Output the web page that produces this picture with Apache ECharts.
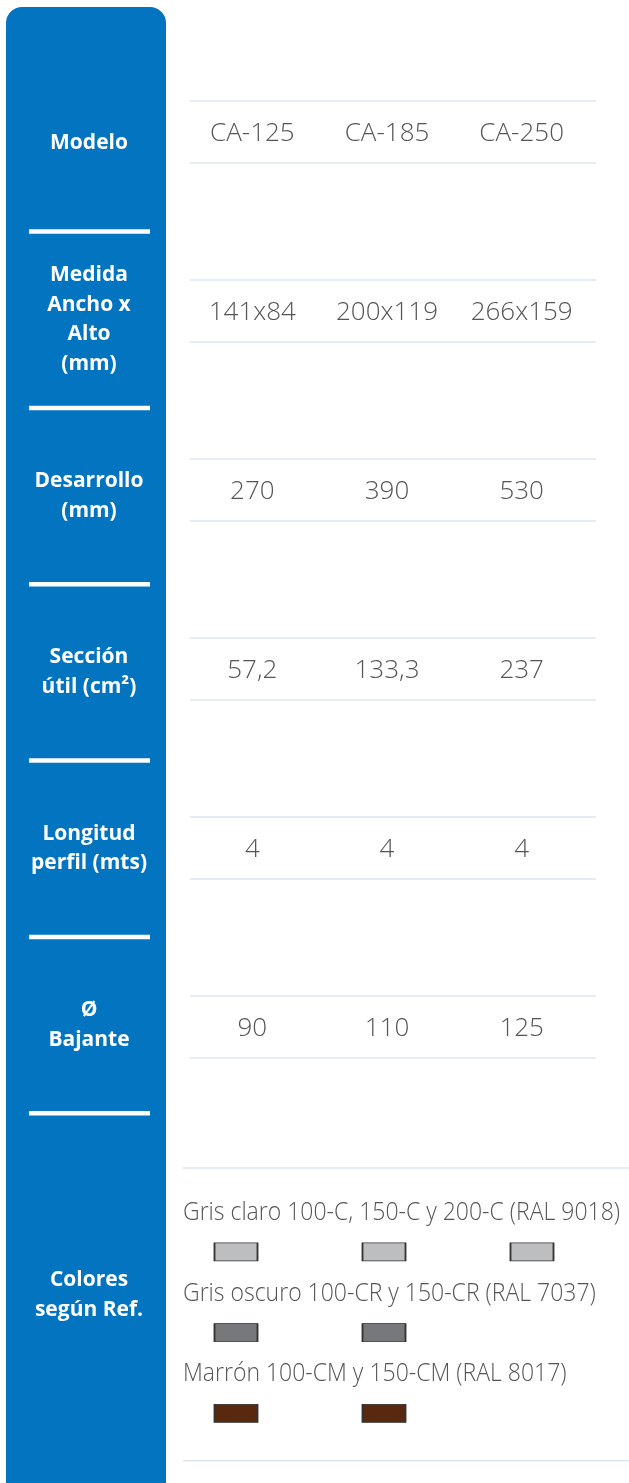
<!DOCTYPE html>
<html>
<head>
<meta charset="utf-8">
<script src="https://cdn.jsdelivr.net/npm/echarts@6/dist/echarts.min.js"></script>
<style>
html, body { margin: 0; padding: 0; background: #fff; }
#chart { width: 629px; height: 1483px; }
</style>
</head>
<body>
<div id="chart"></div>
<script>
// filas de la tabla
const rowNames = ['Modelo', 'Medida\nAncho x\nAlto\n(mm)', 'Desarrollo\n(mm)', 'Sección\nútil (cm²)', 'Longitud\nperfil (mts)', 'Ø\nBajante'];
const models = ['CA-125', 'CA-185', 'CA-250'];
const medida = ['141x84', '200x119', '266x159'];
const desarrollo = [270, 390, 530];
const seccion = ['57,2', '133,3', '237'];
const longitud = [4, 4, 4];
const bajante = [90, 110, 125];
const tableRows = [models, medida, desarrollo, seccion, longitud, bajante];

// colores
const colorLabel = 'Colores\nsegún Ref.';
const colorNames = ['Gris claro 100-C, 150-C y 200-C (RAL 9018)', 'Gris oscuro 100-CR y 150-CR (RAL 7037)', 'Marrón 100-CM y 150-CM (RAL 8017)'];
const colorCounts = [3, 2, 2];
const colorHex = ['#BCBEC0', '#77787B', '#58290F'];

const blue = '#0274C0';
const lineColor = '#DCE6F2';
const textGray = '#555555';

let cellData = [];
tableRows.forEach((row, r) => {
  row.forEach((v, c) => cellData.push([c, r, String(v)]));
});

let swatchData = [];
colorCounts.forEach((n, r) => {
  for (let i = 0; i < n; i++) {
    swatchData.push({ value: [i, r], itemStyle: { color: colorHex[r] } });
  }
});

let hiddenCat = (data, grid, inverse) => ({
  type: 'category', data: data, gridIndex: grid, show: false, inverse: !!inverse
});

let myChart = echarts.init(document.getElementById('chart'));
let option = {
  animation: false,
  graphic: [
    {
      type: 'rect',
      z: 0,
      shape: { x: 6, y: 7, width: 160, height: 1500, r: [16, 16, 0, 0] },
      style: { fill: blue }
    }
  ],
  grid: [
    { left: 9, top: 55, width: 160, height: 1058 },
    { left: 185, top: 42.5, width: 404, height: 1074 },
    { left: 9, top: 1113, width: 160, height: 370 },
    { left: 162, top: 1191.6, width: 444, height: 242 }
  ],
  xAxis: [
    hiddenCat(['x'], 0),
    hiddenCat(models, 1),
    hiddenCat(['x'], 2),
    hiddenCat(['a', 'b', 'c'], 3)
  ],
  yAxis: [
    hiddenCat(rowNames, 0, true),
    hiddenCat(rowNames, 1, true),
    hiddenCat([colorLabel], 2, true),
    hiddenCat(colorNames, 3, true)
  ],
  series: [
    {
      // etiquetas blancas y separadores del panel azul
      type: 'custom',
      xAxisIndex: 0,
      yAxisIndex: 0,
      z: 5,
      clip: false,
      data: rowNames.map((n, r) => [0, r]),
      renderItem(params, api) {
        let c = api.coord([0, api.value(1)]);
        let band = api.size([0, 1])[1];
        return {
          type: 'group',
          children: [
            {
              type: 'text',
              x: c[0],
              y: c[1],
              style: {
                text: rowNames[api.value(1)],
                fill: '#fff',
                fontFamily: '"Open Sans"',
                fontWeight: 'bold',
                fontSize: 21,
                lineHeight: 29.5,
                align: 'center',
                verticalAlign: 'middle'
              }
            },
            {
              type: 'rect',
              shape: { x: c[0] - 60, y: c[1] + band / 2 - 2, width: 121, height: 4.5 },
              style: { fill: '#fff' }
            }
          ]
        };
      }
    },
    {
      // lineas de cada fila
      type: 'custom',
      xAxisIndex: 1,
      yAxisIndex: 1,
      z: 5,
      clip: false,
      data: rowNames.map((n, r) => [0, r]),
      renderItem(params, api) {
        let c = api.coord([0, api.value(1)]);
        let x1 = params.coordSys.x + 5;
        let x2 = params.coordSys.x + params.coordSys.width + 7;
        return {
          type: 'group',
          children: [-31, 31].map(d => ({
            type: 'line',
            shape: { x1: x1, y1: c[1] + d, x2: x2, y2: c[1] + d },
            style: { stroke: lineColor, lineWidth: 1.5 }
          }))
        };
      }
    },
    {
      // valores
      type: 'custom',
      xAxisIndex: 1,
      yAxisIndex: 1,
      z: 6,
      clip: false,
      data: cellData,
      renderItem(params, api) {
        let c = api.coord([api.value(0), api.value(1)]);
        return {
          type: 'text',
          x: c[0],
          y: c[1] + 2,
          style: {
            text: cellData[params.dataIndex][2],
            fill: textGray,
            fontFamily: '"Open Sans"',
            fontWeight: 300,
            fontSize: 26,
            align: 'center',
            verticalAlign: 'middle'
          }
        };
      }
    },
    {
      type: 'custom',
      xAxisIndex: 2,
      yAxisIndex: 2,
      z: 5,
      clip: false,
      data: [[0, 0]],
      renderItem(params, api) {
        let c = api.coord([0, 0]);
        return {
          type: 'text',
          x: c[0],
          y: c[1] - 3,
          style: {
            text: colorLabel,
            fill: '#fff',
            fontFamily: '"Open Sans"',
            fontWeight: 'bold',
            fontSize: 21,
            lineHeight: 29.5,
            align: 'center',
            verticalAlign: 'middle'
          }
        };
      }
    },
    {
      // textos de colores y lineas de la seccion
      type: 'custom',
      xAxisIndex: 3,
      yAxisIndex: 3,
      z: 5,
      clip: false,
      data: colorNames.map((n, r) => [0, r]),
      renderItem(params, api) {
        let r = api.value(1);
        let c = api.coord([0, r]);
        let x0 = params.coordSys.x + 21;
        let children = [
          {
            type: 'text',
            x: x0,
            y: c[1] - 19,
            scaleX: 0.92,
            style: {
              text: colorNames[r],
              fill: textGray,
              fontFamily: '"Open Sans"',
              fontWeight: 300,
              fontSize: 25,
              align: 'left',
              verticalAlign: 'middle'
            }
          }
        ];
        if (r === 0) {
          children.push({
            type: 'line',
            shape: { x1: x0, y1: c[1] - 64, x2: 629, y2: c[1] - 64 },
            style: { stroke: lineColor, lineWidth: 1.5 }
          });
        }
        if (r === colorNames.length - 1) {
          children.push({
            type: 'line',
            shape: { x1: x0, y1: c[1] + 67.5, x2: 629, y2: c[1] + 67.5 },
            style: { stroke: lineColor, lineWidth: 1.5 }
          });
        }
        return { type: 'group', children: children };
      }
    },
    {
      // muestras de color
      type: 'scatter',
      xAxisIndex: 3,
      yAxisIndex: 3,
      z: 6,
      symbol: 'rect',
      symbolSize: [43, 18],
      symbolOffset: [0, 20],
      itemStyle: { borderColor: '#333', borderWidth: 1.2, opacity: 1 },
      data: swatchData
    }
  ]
};
myChart.setOption(option, true);
</script>
</body>
</html>
